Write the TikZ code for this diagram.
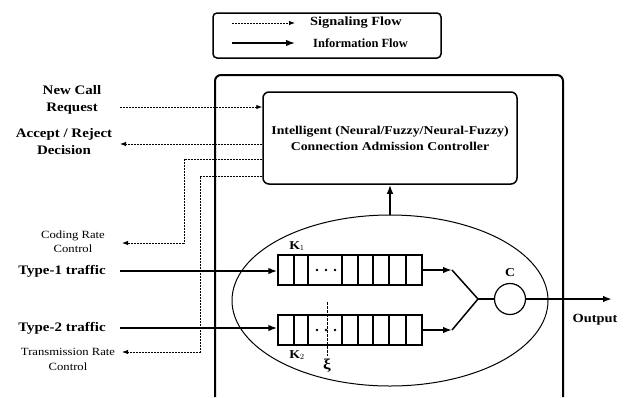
\documentclass[tikz,border=0pt]{standalone}
\usepackage{fontspec}
\setmainfont{Liberation Serif}[FakeStretch=1.15]
\newfontfamily\plainser{Liberation Serif}
\usetikzlibrary{positioning,arrows.meta,shapes.geometric}

\tikzset{
  sig/.style={line width=.9pt,dash pattern=on 2pt off 1pt,-{Latex[length=6pt,width=4.5pt]}},
  info/.style={line width=1.8pt,-{Latex[length=9pt,width=6.5pt]}},
  big/.style={font=\bfseries\fontsize{13}{17}\selectfont,align=center,inner sep=0pt},
  traffic/.style={font=\bfseries\fontsize{13}{14}\selectfont,inner sep=0pt},
  small/.style={font=\fontsize{11}{14.5}\selectfont,align=center,inner sep=0pt},
  queue/.style={draw,line width=1.2pt,minimum width=144pt,minimum height=30pt,inner sep=0pt},
}

\begin{document}
\begin{tikzpicture}[x=1pt,y=-1pt]
  \useasboundingbox (0,0) rectangle (631,397);
  % legend
  \node[draw,line width=1.5pt,rounded corners=4pt,minimum width=228pt,minimum height=45pt] (leg) at (327,35.5) {};
  \coordinate (sigA) at (232,23);
  \coordinate (sigB) at (295,23);
  \coordinate (infA) at (232,43);
  \coordinate (infB) at (295,43);
  \draw[sig] (sigA) -- (sigB);
  \draw[info,line width=1.4pt] (infA) -- (infB);
  \node[anchor=west,font=\bfseries\fontsize{12.5}{14}\selectfont,inner sep=0pt] (sigtxt) at (310,23) {Signaling Flow};
  \node[anchor=west,font=\plainser\bfseries\fontsize{12.5}{14}\selectfont,inner sep=0pt] (inftxt) at (313,43) {Information Flow};

  % outer box
  \draw[line width=2pt,rounded corners=6pt] (215,397) -- (215,75) -- (563,75) -- (563,397);

  % controller
  \node[draw,line width=1.5pt,rounded corners=6pt,minimum width=254pt,minimum height=92pt,
        font=\bfseries\fontsize{12}{16}\selectfont,align=center] (cac) at (390,138)
        {Intelligent (Neural/Fuzzy/Neural-Fuzzy)\\Connection Admission Controller};

  % left labels
  \node[big] (ncr) at (72,100) {New Call\\Request};
  \node[big] (ard) at (64,142) {Accept / Reject\\Decision};
  \node[small] (crc) at (73,241.5) {Coding Rate\\Control};
  \node[small] (trc) at (68,359.5) {Transmission Rate\\Control};
  \node[traffic] (t1) at (62,271) {Type-1 traffic};
  \node[traffic] (t2) at (62,328) {Type-2 traffic};

  % signaling
  \coordinate (ncrA) at (120,107);
  \coordinate (ardA) at (120,144);
  \draw[sig] (ncrA) -- (ncrA -| cac.west);
  \draw[sig] (ardA -| cac.west) -- (ardA);
  \coordinate (crcA) at (184,159);
  \coordinate (crcB) at (184,243);
  \coordinate (crcC) at (122,243);
  \draw[sig] (crcA -| cac.west) -- (crcA) -- (crcB) -- (crcC);
  \coordinate (trcA) at (200,176);
  \coordinate (trcB) at (200,352);
  \coordinate (trcC) at (122,352);
  \draw[sig] (trcA -| cac.west) -- (trcA) -- (trcB) -- (trcC);

  % buffer
  \node[draw,ellipse,line width=1pt,minimum width=316pt,minimum height=171pt] (buf) at (390,300.5) {};
  \draw[info,line width=1.5pt] (buf.north) -- (cac.south);

  \node[queue] (q1) at (350,270) {};
  \node[queue] (q2) at (350,330) {};
  \foreach \x in {294,308,342,358,373,389,406} {
    \draw[line width=1.2pt] (\x,255) -- (\x,285);
    \draw[line width=1.2pt] (\x,315) -- (\x,345);
  }
  \foreach \x in {317,326,335} {
    \fill (\x,270) circle (1.3);
    \fill (\x,330) circle (1.3);
  }
  \coordinate (xiA) at (327,302);
  \coordinate (xiB) at (327,356);
  \draw[line width=.9pt,dash pattern=on 2.5pt off 1.5pt] (xiA) -- (xiB);
  \node[font=\bfseries\fontsize{12}{14}\selectfont,inner sep=0pt] (k1) at (297,246) {K$_1$};
  \node[font=\bfseries\fontsize{12}{14}\selectfont,inner sep=0pt] (k2) at (297,355) {K$_2$};
  \node[inner sep=0pt,font=\bfseries\fontsize{15}{16}\selectfont] (xi) at (327,366) {ξ};

  \coordinate (t1A) at (120,271);
  \coordinate (t2A) at (120,328);
  \draw[info] (t1A) -- (t1A -| q1.west);
  \draw[info] (t2A) -- (t2A -| q2.west);

  % server
  \coordinate (j1) at (452,270);
  \coordinate (j2) at (452,330);
  \coordinate (mg) at (478,299);
  \node[draw,circle,line width=1.2pt,minimum size=31pt,inner sep=0pt] (srv) at (510,299) {};
  \node[font=\bfseries\fontsize{12}{14}\selectfont,inner sep=0pt] (cap) at (510,273) {C};
  \draw[info,line width=1.5pt] (q1.east) -- (j1);
  \draw[info,line width=1.5pt] (q2.east) -- (j2);
  \draw[line width=1.5pt] (j1) -- (mg) -- (j2);
  \draw[line width=1.5pt] (mg) -- (srv.west);
  \coordinate (out) at (612,299);
  \draw[info] (srv.east) -- (out);
  \node[font=\bfseries\fontsize{12.5}{14}\selectfont,inner sep=0pt] (outtxt) at (595,320) {Output};
\end{tikzpicture}
\end{document}
